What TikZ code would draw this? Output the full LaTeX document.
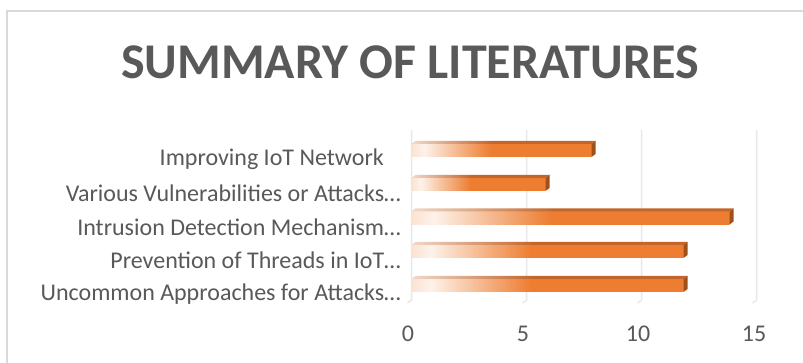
\documentclass[tikz,border=0pt]{standalone}
\usepackage{fontspec}
\setmainfont{Carlito}
\definecolor{barorange}{HTML}{ED7D31}
\definecolor{bartop}{HTML}{C4662B}
\definecolor{barend}{HTML}{A0501B}
\definecolor{txtgray}{HTML}{595959}
\definecolor{gridgray}{HTML}{E8E8E8}
\definecolor{framegray}{HTML}{D9D9D9}
\pgfdeclarehorizontalshading{barshade}{100bp}{color(0bp)=(barorange!22!white); color(25bp)=(barorange!22!white); color(28.5bp)=(barorange!10!white); color(47bp)=(barorange); color(100bp)=(barorange)}
\pgfdeclarehorizontalshading{topshade}{100bp}{color(0bp)=(bartop!25!white); color(25bp)=(bartop!25!white); color(47bp)=(bartop); color(100bp)=(bartop)}
\tikzset{
  catlabel/.style={anchor=east, text=txtgray, font=\fontsize{24}{26}\selectfont, inner sep=0pt},
  ticklabel/.style={anchor=center, text=txtgray, font=\fontsize{24}{26}\selectfont, inner sep=0pt},
  gridline/.style={draw=gridgray, line width=1.5pt},
}
\begin{document}
\begin{tikzpicture}[x=1pt,y=-1pt]
\useasboundingbox (0,0) rectangle (803,363);
\fill[white] (0,0) rectangle (803,363);
% chart frame (partially cropped)
\draw[framegray, line width=1.2pt] (7,363) -- (7,11) -- (803,11);
% title
\node[font=\fontsize{50}{54}\selectfont\bfseries, text=txtgray, inner sep=0pt] (title) at (410,62) {SUMMARY OF LITERATURES};
% gridlines
\foreach \k in {0,5,10,15} {
  \pgfmathsetmacro{\gx}{411.5+23*\k}
  \draw[gridline] (\gx,130) -- (\gx,300) -- (\gx-4,303);
}
% tick labels
\node[ticklabel] (t0) at (408,334) {0};
\node[ticklabel] (t5) at (523,334) {5};
\node[ticklabel] (t10) at (638,334) {10};
\node[ticklabel] (t15) at (754,334) {15};
% bars: value, top y
\foreach \v/\ty [count=\i] in {8/141,6/175,14/208.5,12/242,12/276} {
  \pgfmathsetmacro{\xe}{411.5+23*\v-4}
  \pgfmathsetmacro{\by}{\ty+16}
  \shade[shading=barshade] (411.5,\ty+3) rectangle (\xe,\by);
  \shade[shading=topshade] (411.5,\ty+3) -- (415.5,\ty) -- (\xe+4,\ty) -- (\xe,\ty+3) -- cycle;
  \fill[barend] (\xe,\ty+3) -- (\xe+4,\ty) -- (\xe+4,\by-3) -- (\xe,\by) -- cycle;
}
% category labels
\node[catlabel] (c1) at (384,159) {Improving IoT Network};
\node[catlabel] (c2) at (401,193) {Various Vulnerabilities or Attacks…};
\node[catlabel] (c3) at (401,227) {Intrusion Detection Mechanism…};
\node[catlabel] (c4) at (401,260) {Prevention of Threads in IoT…};
\node[catlabel] (c5) at (401,294) {Uncommon Approaches for Attacks…};
\end{tikzpicture}
\end{document}
